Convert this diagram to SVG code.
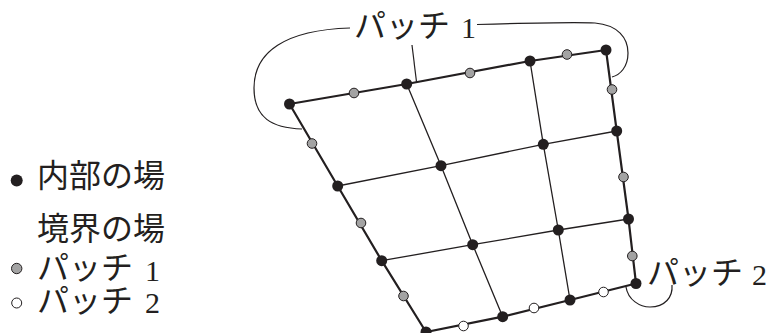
<svg xmlns="http://www.w3.org/2000/svg" width="772" height="333" viewBox="0 0 772 333">
<style>
.bd{fill:none;stroke:#231f20;stroke-width:2.2;stroke-linejoin:round}
.in{fill:none;stroke:#231f20;stroke-width:1.3}
.ld{fill:none;stroke:#231f20;stroke-width:1.2}
.b{fill:#231f20}
.g{fill:#a3a3a3;stroke:#231f20;stroke-width:1}
.w{fill:#fff;stroke:#231f20;stroke-width:1}
text{font-family:"Liberation Serif","Noto Sans CJK JP",serif;font-size:32px;fill:#231f20}
.d{font-size:30px}
</style>
<rect width="772" height="333" fill="#fff"/>
<g id="connectors">
<polyline class="in" points="337.7,186 441,165.7 543.3,144.3 616.7,131"/>
<polyline class="in" points="381.7,260.7 472.7,244.7 558.3,230 628.5,219"/>
<polyline class="in" points="406.7,84 441,165.7 472.7,244.7 502.7,316.7"/>
<polyline class="in" points="530,61 543.3,144.3 558.3,230 570,300"/>
<polygon class="bd" points="289.5,104 406.7,84 530,61 606,50 616.7,131 628.5,219 636,283.5 570,300 502.7,316.7 426,332 381.7,260.7 337.7,186"/>
<path class="ld" d="M350,28 C285,30 254,52 254,88 C254,118 272,128 302,129"/>
<path class="ld" d="M477,24.5 C530,23 575,22 595,23 C618,25 628,38 628,53 C628,67 620,75 612,77"/>
<path class="ld" d="M412,45 L416.5,82"/>
<path class="ld" d="M626,287 C628,300 640,307 650,307 C665,307 673,297 672,285"/>
</g>
<g id="interior-nodes">
<circle class="b" cx="289.5" cy="104" r="5.5"/>
<circle class="b" cx="406.7" cy="84" r="5.5"/>
<circle class="b" cx="530" cy="61" r="5.5"/>
<circle class="b" cx="606" cy="50" r="5.5"/>
<circle class="b" cx="337.7" cy="186" r="5.5"/>
<circle class="b" cx="441" cy="165.7" r="5.5"/>
<circle class="b" cx="543.3" cy="144.3" r="5.5"/>
<circle class="b" cx="616.7" cy="131" r="5.5"/>
<circle class="b" cx="381.7" cy="260.7" r="5.5"/>
<circle class="b" cx="472.7" cy="244.7" r="5.5"/>
<circle class="b" cx="558.3" cy="230" r="5.5"/>
<circle class="b" cx="628.5" cy="219" r="5.5"/>
<circle class="b" cx="426" cy="332" r="5.5"/>
<circle class="b" cx="502.7" cy="316.7" r="5.5"/>
<circle class="b" cx="570" cy="300" r="5.5"/>
<circle class="b" cx="636" cy="283.5" r="5.5"/>
</g>
<g id="patch1-nodes">
<circle class="g" cx="354" cy="93" r="4.8"/>
<circle class="g" cx="470" cy="73" r="4.8"/>
<circle class="g" cx="567" cy="54.5" r="4.8"/>
<circle class="g" cx="312" cy="143.5" r="4.8"/>
<circle class="g" cx="361" cy="223" r="4.8"/>
<circle class="g" cx="403.5" cy="296" r="4.8"/>
<circle class="g" cx="612" cy="89.5" r="4.8"/>
<circle class="g" cx="623.5" cy="177" r="4.8"/>
<circle class="g" cx="632.3" cy="256" r="4.8"/>
</g>
<g id="patch2-nodes">
<circle class="w" cx="463.5" cy="326" r="4.8"/>
<circle class="w" cx="534" cy="308" r="4.8"/>
<circle class="w" cx="603.5" cy="292" r="4.8"/>
</g>
<g id="label-patch1">
<text x="354" y="36.5">パッチ<tspan class="d" x="461" y="37.5">1</tspan></text>
</g>
<g id="label-patch2">
<text x="647" y="283.5">パッチ<tspan class="d" x="752" y="285">2</tspan></text>
</g>
<g id="legend">
<circle class="b" cx="16.7" cy="180.5" r="6"/>
<text x="37" y="187">内部の場</text>
<text x="37" y="240">境界の場</text>
<circle class="g" cx="16.7" cy="268.5" r="5.2"/>
<text x="37" y="279">パッチ<tspan class="d" x="145" y="280.5">1</tspan></text>
<circle class="w" cx="16.7" cy="303" r="5"/>
<text x="37" y="311.5">パッチ<tspan class="d" x="145" y="313">2</tspan></text>
</g>
</svg>
